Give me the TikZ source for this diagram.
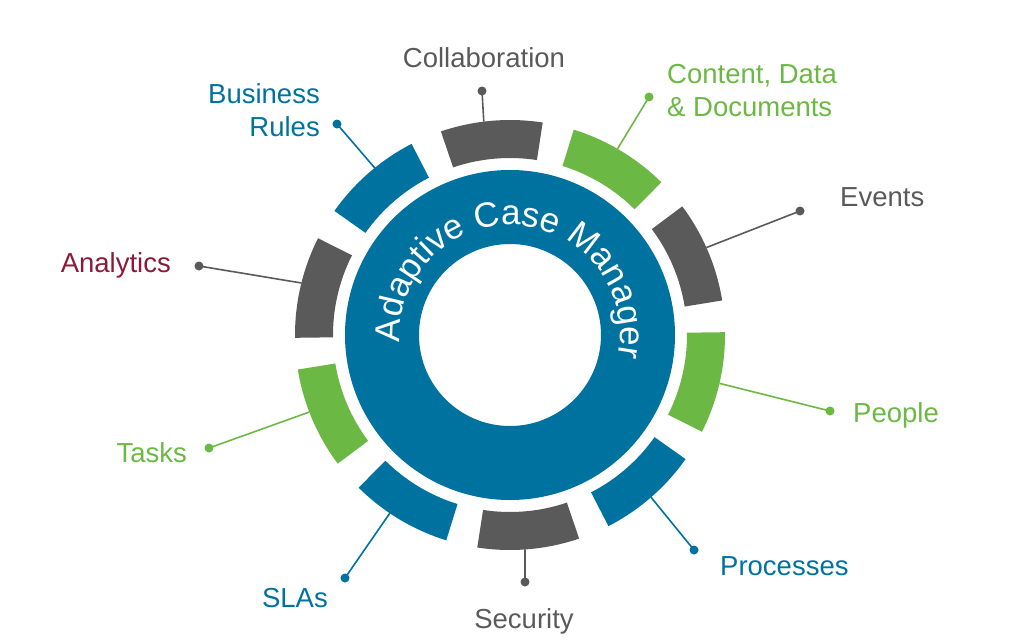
\documentclass[tikz,border=0pt]{standalone}
\usepackage{fontspec}
\setmainfont{Liberation Sans}
\usetikzlibrary{decorations.text}

\definecolor{acmblue}{RGB}{0,114,160}
\definecolor{acmgray}{RGB}{90,90,90}
\definecolor{acmgreen}{RGB}{108,184,69}
\definecolor{acmred}{RGB}{139,26,56}

\begin{document}
\begin{tikzpicture}[
    x=1pt, y=1pt,
    lead/.style={line width=1.6pt},
    lbl/.style={inner sep=0pt, font=\fontsize{27.5}{33}\selectfont}
]
    \useasboundingbox (-510, -306) rectangle (514, 335);

    % hub
    \fill[acmblue, even odd rule] (0, 0) circle (165) (0, 0) circle (91);
    \path[
        decorate,
        decoration={text along path, text align=center, text color=white,
            text={|\fontsize{35}{40}\selectfont|Adaptive Case Manager}}
    ] (181:110) arc (181:-9:110);

    % outer segments
    \fill[acmgray]  (81.25:177) arc (81.25:108.75:177) -- (108.75:215) arc (108.75:81.25:215) -- cycle;
    \fill[acmgreen] (45.25:177) arc (45.25:72.75:177) -- (72.75:215) arc (72.75:45.25:215) -- cycle;
    \fill[acmgray]  (9.25:177) arc (9.25:36.75:177) -- (36.75:215) arc (36.75:9.25:215) -- cycle;
    \fill[acmgreen] (-26.75:177) arc (-26.75:0.75:177) -- (0.75:215) arc (0.75:-26.75:215) -- cycle;
    \fill[acmblue]  (-62.75:177) arc (-62.75:-35.25:177) -- (-35.25:215) arc (-35.25:-62.75:215) -- cycle;
    \fill[acmgray]  (-98.75:177) arc (-98.75:-71.25:177) -- (-71.25:215) arc (-71.25:-98.75:215) -- cycle;
    \fill[acmblue]  (-134.75:177) arc (-134.75:-107.25:177) -- (-107.25:215) arc (-107.25:-134.75:215) -- cycle;
    \fill[acmgreen] (-170.75:177) arc (-170.75:-143.25:177) -- (-143.25:215) arc (-143.25:-170.75:215) -- cycle;
    \fill[acmgray]  (153.25:177) arc (153.25:180.75:177) -- (180.75:215) arc (180.75:153.25:215) -- cycle;
    \fill[acmblue]  (117.25:177) arc (117.25:144.75:177) -- (144.75:215) arc (144.75:117.25:215) -- cycle;

    % leader ends
    \coordinate (collab-in) at (97:215);     \coordinate (collab-dot) at (-28, 244);
    \coordinate (content-in) at (60:215);    \coordinate (content-dot) at (139, 238);
    \coordinate (events-in) at (24:215);     \coordinate (events-dot) at (290, 124);
    \coordinate (people-in) at (-13:215);    \coordinate (people-dot) at (320, -76);
    \coordinate (process-in) at (-49:215);   \coordinate (process-dot) at (184, -215);
    \coordinate (security-in) at (-86:215);  \coordinate (security-dot) at (15, -247);
    \coordinate (slas-in) at (-124:215);     \coordinate (slas-dot) at (-165, -243);
    \coordinate (tasks-in) at (201:215);     \coordinate (tasks-dot) at (-301, -113);
    \coordinate (analytics-in) at (166:215); \coordinate (analytics-dot) at (-311, 69);
    \coordinate (rules-in) at (129:215);     \coordinate (rules-dot) at (-173, 211);

    \draw[lead, acmgray] (collab-in) -- (collab-dot);
    \draw[lead, acmgreen] (content-in) -- (content-dot);
    \draw[lead, acmgray] (events-in) -- (events-dot);
    \draw[lead, acmgreen] (people-in) -- (people-dot);
    \draw[lead, acmblue] (process-in) -- (process-dot);
    \draw[lead, acmgray] (security-in) -- (security-dot);
    \draw[lead, acmblue] (slas-in) -- (slas-dot);
    \draw[lead, acmgreen] (tasks-in) -- (tasks-dot);
    \draw[lead, acmgray] (analytics-in) -- (analytics-dot);
    \draw[lead, acmblue] (rules-in) -- (rules-dot);

    \fill[acmgray] (collab-dot) circle (4.5) (events-dot) circle (4.5)
        (security-dot) circle (4.5) (analytics-dot) circle (4.5);
    \fill[acmgreen] (content-dot) circle (4.5) (people-dot) circle (4.5)
        (tasks-dot) circle (4.5);
    \fill[acmblue] (process-dot) circle (4.5) (slas-dot) circle (4.5)
        (rules-dot) circle (4.5);

    % labels
    \node[lbl, acmgray, anchor=base] (collab) at (-26, 268) {Collaboration};
    \node[lbl, acmblue, anchor=east, align=right] (rules) at (-190, 225) {Business\\Rules};
    \node[lbl, acmgreen, anchor=west, align=left] (content) at (157, 244) {Content, Data\\\& Documents};
    \node[lbl, acmgray, anchor=base west] (events) at (330, 129) {Events};
    \node[lbl, acmred, anchor=base east] (analytics) at (-339, 63) {Analytics};
    \node[lbl, acmgreen, anchor=base west] (people) at (343, -87) {People};
    \node[lbl, acmgreen, anchor=base east] (tasks) at (-323, -127) {Tasks};
    \node[lbl, acmblue, anchor=base west] (process) at (210, -240) {Processes};
    \node[lbl, acmblue, anchor=base east] (slas) at (-182, -272) {SLAs};
    \node[lbl, acmgray, anchor=base] (security) at (14, -293) {Security};

\end{tikzpicture}
\end{document}
